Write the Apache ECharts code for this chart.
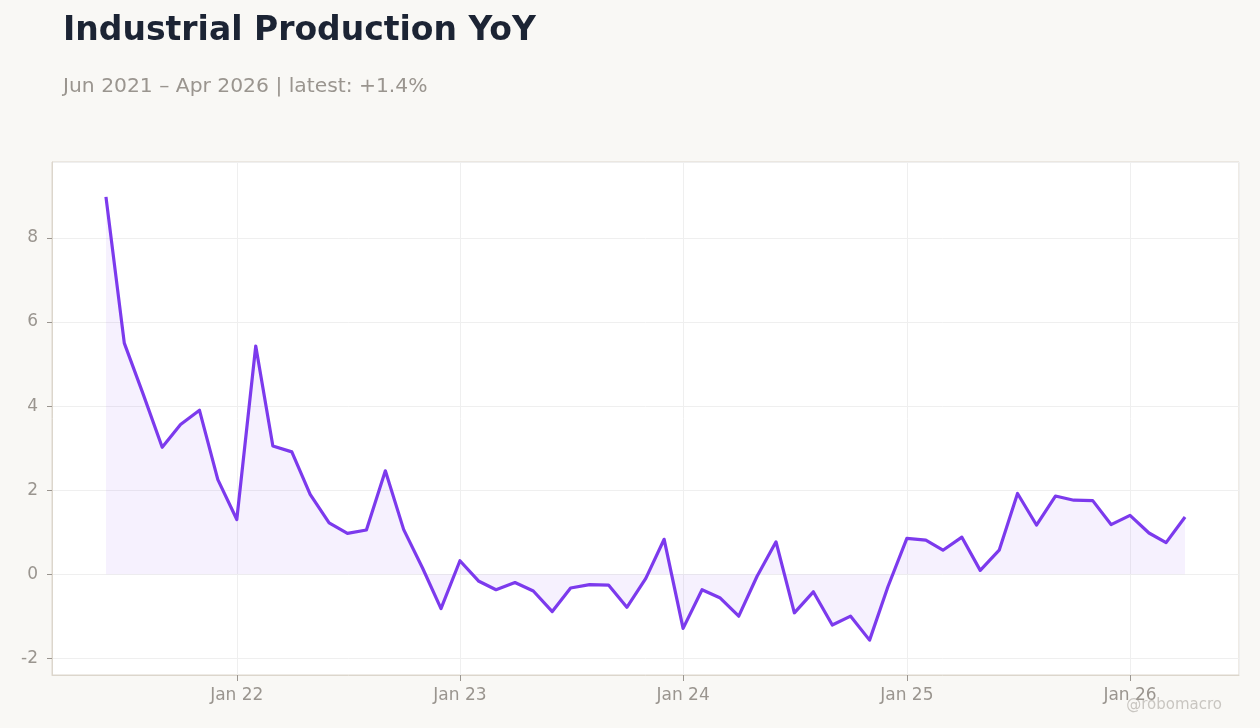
<!DOCTYPE html>
<html>
<head>
<meta charset="utf-8">
<title>Industrial Production YoY</title>
<script src="https://cdn.jsdelivr.net/npm/echarts@6/dist/echarts.min.js"></script>
<style>
  html, body { margin: 0; padding: 0; background: #f9f8f5; }
  #chart { width: 1260px; height: 728px; }
</style>
</head>
<body>
<div id="chart"></div>
<script>
// monthly readings, Jun 2021 .. Apr 2026
const startYear = 2021;
const startMonth = 6; // June
const yoyValues = [
  8.98, 5.50, 4.28, 3.02, 3.56, 3.90, 2.25,              // 2021 Jun-Dec
  1.30, 5.43, 3.05, 2.91, 1.90, 1.22, 0.97, 1.05, 2.46, 1.06, 0.14, -0.82, // 2022
  0.32, -0.17, -0.37, -0.20, -0.40, -0.89, -0.33, -0.25, -0.26, -0.79, -0.10, 0.83, // 2023
  -1.29, -0.37, -0.56, -1.00, -0.05, 0.77, -0.92, -0.42, -1.21, -1.00, -1.57, -0.30, // 2024
  0.85, 0.81, 0.57, 0.88, 0.09, 0.57, 1.92, 1.17, 1.86, 1.76, 1.75, 1.18, // 2025
  1.40, 0.98, 0.75, 1.36                                  // 2026 Jan-Apr
];
const yTickLabels = ['-2', '0', '2', '4', '6', '8'];

const titleText = 'Industrial Production YoY';
const subtitleText = 'Jun 2021 \u2013 Apr 2026 | latest: +1.4%';
const watermark = '@robomacro';

// build [time, value] pairs
const points = yoyValues.map((v, i) => {
  const d = Date.UTC(startYear, startMonth - 1 + i, 1);
  return [d, v];
});

const t0 = points[0][0];
const t1 = points[points.length - 1][0];
const pad = (t1 - t0) * 0.05; // same breathing room both sides

const chart = echarts.init(document.getElementById('chart'));
const gray = '#9a958f';
const frame = '#dcd6cc';

const option = {
  backgroundColor: '#f9f8f5',
  animation: false,
  textStyle: { fontFamily: 'DejaVu Sans' },
  title: [
    {
      text: titleText,
      left: 63,
      top: 15,
      padding: 0,
      textStyle: { fontSize: 33, fontWeight: 'bold', color: '#1c2434', fontFamily: 'DejaVu Sans' }
    },
    {
      text: subtitleText,
      left: 63,
      top: 77,
      padding: 0,
      textStyle: { fontSize: 20.3, fontWeight: 'normal', color: '#9a958f', fontFamily: 'DejaVu Sans' }
    }
  ],
  grid: {
    left: 52,
    right: 21,
    top: 162,
    bottom: 53,
    show: true,
    backgroundColor: '#ffffff',
    borderColor: frame,
    borderWidth: 1,
    containLabel: false,
    outerBoundsMode: 'none'
  },
  xAxis: {
    type: 'time',
    min: t0 - pad,
    max: t1 + pad,
    minInterval: 365 * 24 * 3600 * 1000,
    axisLine: { show: true, onZero: false, lineStyle: { color: frame } },
    axisTick: { show: true, length: 6, lineStyle: { color: gray } },
    axisLabel: {
      color: gray,
      fontSize: 17,
      margin: 12,
      hideOverlap: false,
      formatter: (val) => {
        const d = new Date(val);
        return 'Jan ' + String(d.getUTCFullYear()).slice(2);
      }
    },
    splitLine: { show: true, lineStyle: { color: '#efefef', width: 1 } }
  },
  yAxis: {
    type: 'value',
    min: -2.4,
    max: 9.81,
    axisLine: { show: true, lineStyle: { color: frame } },
    axisTick: { show: true, length: 5, lineStyle: { color: gray } },
    axisLabel: {
      color: gray,
      fontSize: 17,
      margin: 14,
      showMinLabel: false,
      showMaxLabel: false,
      formatter: (v) => (yTickLabels.includes(String(v)) ? String(v) : '')
    },
    splitLine: { show: true, lineStyle: { color: '#efefef', width: 1 } }
  },
  series: [
    {
      type: 'line',
      data: points,
      showSymbol: false,
      symbol: 'none',
      smooth: false,
      lineStyle: { color: '#7c3aed', width: 3.2, join: 'round' },
      areaStyle: { color: 'rgba(124, 58, 237, 0.1)', origin: 0 },
      z: 3
    }
  ],
  graphic: [
    {
      type: 'text',
      right: 38,
      bottom: 15,
      style: {
        text: watermark,
        fill: '#c9c6c1',
        font: '15px "DejaVu Sans"'
      }
    }
  ]
};

chart.setOption(option);
window.addEventListener('resize', () => chart.resize());
</script>
</body>
</html>
